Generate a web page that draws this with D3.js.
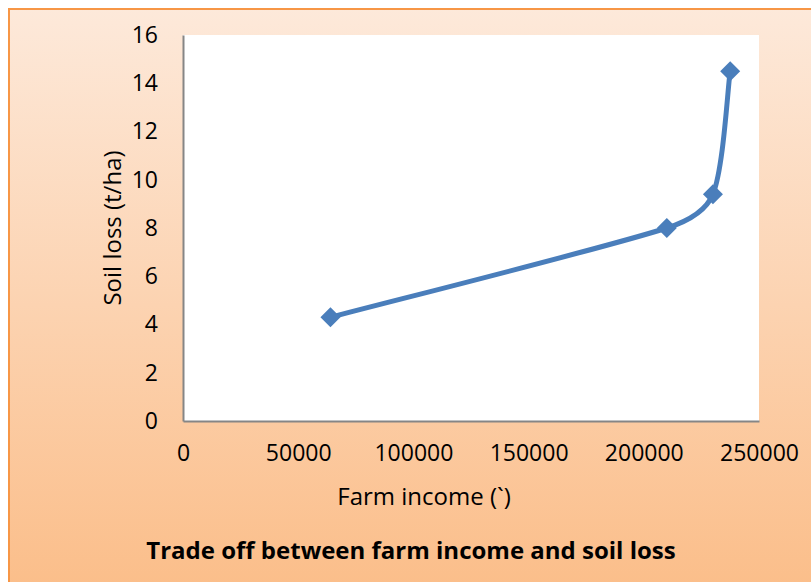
<!DOCTYPE html>
<html>
<head>
<meta charset="utf-8">
<script src="https://cdn.jsdelivr.net/npm/d3@7"></script>
<style>
  body { margin: 0; background: #fff; }
  svg { display: block; }
  text { font-family: "Open Sans", sans-serif; fill: #000; }
</style>
</head>
<body>
<svg width="811" height="582"></svg>
<script>
// data
const incomes = [64000, 210000, 230000, 237500];
const soilLoss = [4.3, 8.0, 9.4, 14.5];
const xTicks = [0, 50000, 100000, 150000, 200000, 250000];
const yTicks = [0, 2, 4, 6, 8, 10, 12, 14, 16];

const svg = d3.select("svg"),
    width = +svg.attr("width"),
    height = +svg.attr("height");

// background gradient
const defs = svg.append("defs");
const grad = defs.append("linearGradient")
    .attr("id", "bg")
    .attr("x1", 0).attr("y1", 0).attr("x2", 0).attr("y2", 1);
grad.append("stop").attr("offset", "0%").attr("stop-color", "#fde9da");
grad.append("stop").attr("offset", "100%").attr("stop-color", "#fbbd88");

svg.append("rect")
    .attr("x", 9).attr("y", 9)
    .attr("width", width + 10).attr("height", height + 10)
    .attr("fill", "url(#bg)")
    .attr("stroke", "#f79646")
    .attr("stroke-width", 2);

const margin = { left: 183, top: 35, right: 52, bottom: 161 };

const x = d3.scaleLinear()
    .domain([0, 250000])
    .range([margin.left, width - margin.right]);

const y = d3.scaleLinear()
    .domain([0, 16])
    .range([height - margin.bottom, margin.top]);

// plot area
svg.append("rect")
    .attr("x", x(0)).attr("y", y(16))
    .attr("width", x(250000) - x(0))
    .attr("height", y(0) - y(16))
    .attr("fill", "#fff");

// axes
const xAxis = svg.append("g")
    .attr("transform", `translate(0,${y(0)})`)
    .call(d3.axisBottom(x).tickValues(xTicks).tickSize(0).tickPadding(24).tickFormat(d3.format("d")));
const yAxis = svg.append("g")
    .attr("transform", `translate(${x(0)},0)`)
    .call(d3.axisLeft(y).tickValues(yTicks).tickSize(0).tickPadding(25));

[xAxis, yAxis].forEach(g => {
    g.select(".domain").attr("stroke", "#868686").attr("stroke-width", 2);
    g.selectAll("text").style("font-size", "23px").style("font-family", "'Open Sans', sans-serif");
});

// line - excel style smoothing (bezier, tangents clamped to segment length)
const pts = incomes.map((d, i) => [d, soilLoss[i]]);
const px = pts.map(d => [x(d[0]), y(d[1])]);

function tangent(i) {
    const a = px[Math.max(i - 1, 0)], b = px[Math.min(i + 1, px.length - 1)];
    return [(b[0] - a[0]) / 6, (b[1] - a[1]) / 6];
}
function clamp(t, maxLen) {
    const len = Math.hypot(t[0], t[1]);
    if (len <= maxLen || len === 0) return t;
    return [t[0] * maxLen / len, t[1] * maxLen / len];
}

const p = d3.path();
p.moveTo(px[0][0], px[0][1]);
for (let i = 0; i < px.length - 1; i++) {
    const a = px[i], b = px[i + 1];
    const seg = Math.hypot(b[0] - a[0], b[1] - a[1]);
    const t0 = clamp(tangent(i), seg / 3);
    const t1 = clamp(tangent(i + 1), seg / 3);
    p.bezierCurveTo(a[0] + t0[0], a[1] + t0[1], b[0] - t1[0], b[1] - t1[1], b[0], b[1]);
}

svg.append("path")
    .attr("fill", "none")
    .attr("stroke", "#4a7ebb")
    .attr("stroke-width", 5)
    .attr("stroke-linejoin", "round")
    .attr("d", p.toString());

// markers
svg.selectAll("markers")
    .data(pts)
    .enter()
    .append("path")
    .attr("d", d3.symbol().type(d3.symbolSquare).size(200)())
    .attr("transform", d => `translate(${x(d[0])},${y(d[1])}) rotate(45)`)
    .attr("fill", "#4a7ebb");

// titles
svg.append("text")
    .attr("x", 424).attr("y", 505)
    .attr("text-anchor", "middle")
    .style("font-size", "24px")
    .text("Farm income (`)");

svg.append("text")
    .attr("transform", "translate(121,228) rotate(-90)")
    .attr("text-anchor", "middle")
    .style("font-size", "24px")
    .text("Soil loss (t/ha)");

svg.append("text")
    .attr("x", 411).attr("y", 559)
    .attr("text-anchor", "middle")
    .style("font-size", "24px")
    .style("font-weight", "bold")
    .text("Trade off between farm income and soil loss");
</script>
</body>
</html>
